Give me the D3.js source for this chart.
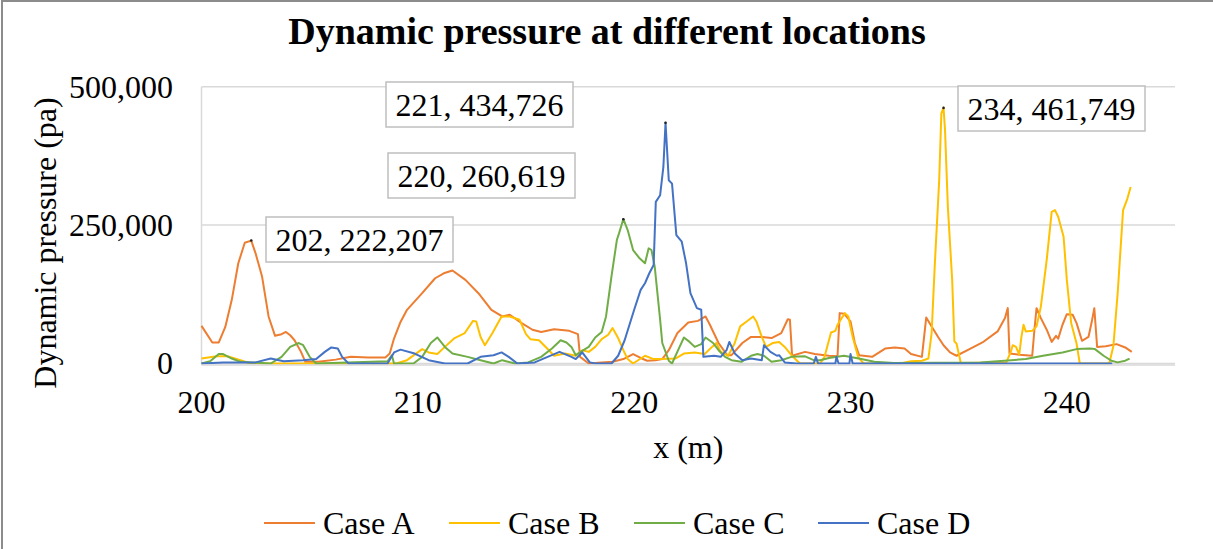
<!DOCTYPE html>
<html>
<head>
<meta charset="utf-8">
<script src="https://cdn.jsdelivr.net/npm/d3@7"></script>
<style>
  html, body { margin: 0; padding: 0; background: #fff; }
  svg { display: block; font-family: "Liberation Serif", "Times New Roman", serif; }
</style>
</head>
<body>
<div id="chart"></div>
<script>
// Dynamic pressure (pa) along x (m). Values in thousands of pa.
const caseA = [
  [200.0, 68], [200.5, 38], [200.8, 38], [201.1, 66], [201.4, 115], [201.7, 181], [202.0, 218],
  [202.3, 222], [202.5, 199], [202.8, 157], [203.1, 85], [203.4, 50], [203.7, 53], [203.9, 57],
  [204.1, 51], [204.3, 42], [204.6, 21], [204.8, 3], [205.4, 3], [206.2, 7], [206.9, 12],
  [207.7, 11], [208.5, 11], [208.7, 18], [208.9, 45], [209.2, 75], [209.5, 97], [210.2, 127],
  [210.8, 154], [211.2, 163], [211.6, 168], [212.2, 151], [212.8, 127], [213.4, 97], [213.9, 85],
  [214.25, 88], [214.8, 73], [215.3, 61], [215.7, 57], [216.3, 62], [217.0, 59], [217.4, 53],
  [217.5, 12], [217.9, 0], [218.5, 2], [219.0, 3], [219.5, 8], [219.95, 17], [220.3, 10],
  [220.6, 5], [221.0, 6], [221.3, 8], [221.6, 24], [222.0, 55], [222.5, 74], [222.95, 77],
  [223.3, 85], [223.5, 70], [223.9, 37], [224.3, 15], [224.5, 15], [225.0, 37], [225.4, 48],
  [225.9, 48], [226.35, 46], [226.8, 55], [227.1, 80], [227.2, 79], [227.3, 14], [227.9, 21],
  [228.35, 17], [229.0, 14], [229.4, 13], [229.5, 91], [229.7, 90], [230.0, 76], [230.2, 37],
  [230.4, 15], [231.0, 12], [231.6, 27], [232.05, 29], [232.5, 27], [232.8, 17], [233.3, 12],
  [233.5, 83], [233.75, 67], [234.05, 48], [234.3, 33], [234.6, 20], [234.9, 14], [235.5, 26],
  [236.1, 38], [236.8, 58], [237.14, 82], [237.27, 100], [237.35, 18], [237.8, 16], [238.4, 14],
  [238.5, 60], [238.6, 100], [238.8, 82], [239.07, 61], [239.3, 39], [239.5, 50], [239.6, 45],
  [239.8, 70], [240.0, 89], [240.27, 88], [240.45, 73], [240.7, 41], [241.0, 48], [241.14, 73],
  [241.27, 100], [241.4, 30], [241.8, 31], [242.3, 35], [242.7, 29], [243.0, 21]
];

const caseB = [
  [200.0, 9], [200.7, 13], [201.2, 13], [201.8, 6], [202.2, 1], [203.0, 0], [209.0, 0],
  [209.5, 6], [210.2, 26], [210.5, 20], [210.9, 17], [211.25, 30], [211.7, 46], [212.17, 55],
  [212.55, 77], [212.7, 76], [212.9, 48], [213.1, 33], [213.45, 55], [213.87, 85], [214.25, 85],
  [214.7, 79], [215.0, 53], [215.2, 44], [215.6, 42], [215.98, 27], [216.3, 14], [216.8, 18],
  [217.3, 14], [217.6, 24], [217.9, 21], [218.2, 30], [218.5, 44], [218.8, 52], [219.0, 64],
  [219.26, 46], [219.5, 24], [219.7, 8], [219.95, 0], [220.5, 14], [220.9, 8], [221.26, 8],
  [221.9, 9], [222.3, 18], [222.8, 20], [223.26, 17], [223.6, 30], [223.8, 37], [224.0, 21],
  [224.35, 14], [224.65, 37], [224.9, 67], [225.2, 76], [225.5, 85], [225.65, 76], [225.9, 48],
  [226.1, 30], [226.4, 37], [226.7, 39], [226.96, 30], [227.27, 15], [227.66, 0], [228.6, 0],
  [228.8, 12], [229.1, 56], [229.3, 59], [229.4, 70], [229.74, 91], [229.9, 85], [230.1, 48],
  [230.35, 12], [230.6, 0], [232.3, 0], [232.8, 4], [233.3, 5], [233.6, 9], [233.75, 55],
  [233.9, 181], [234.1, 331], [234.2, 452], [234.3, 462], [234.37, 421], [234.5, 283],
  [234.7, 151], [234.8, 40], [234.9, 36], [235.1, 1], [237.2, 2], [237.4, 20], [237.5, 33],
  [237.65, 30], [237.8, 16], [237.9, 48], [238.0, 70], [238.1, 58], [238.4, 59], [238.6, 67],
  [238.8, 103], [239.07, 187], [239.3, 274], [239.45, 277], [239.6, 265], [239.85, 229],
  [240.0, 151], [240.2, 73], [240.45, 36], [240.6, 0], [241.96, 0], [242.15, 31], [242.35, 127],
  [242.6, 277], [242.8, 298], [242.95, 319]
];

const caseC = [
  [200.0, 0], [200.4, 4], [200.8, 17], [201.0, 17], [201.4, 9], [201.8, 3], [203.2, 0],
  [203.7, 12], [204.1, 30], [204.5, 37], [204.7, 33], [205.0, 12], [205.3, 0], [208.6, 4],
  [208.8, 15], [208.9, 0], [209.8, 0], [210.2, 12], [210.6, 37], [210.9, 47], [211.25, 30],
  [211.6, 18], [212.3, 12], [212.9, 6], [213.5, 0], [213.9, 6], [214.5, 0], [215.1, 2],
  [215.7, 12], [216.2, 27], [216.6, 42], [216.87, 38], [217.1, 30], [217.3, 15], [217.56, 22],
  [217.9, 30], [218.2, 47], [218.5, 57], [218.7, 85], [218.95, 157], [219.2, 223], [219.3, 235],
  [219.5, 261], [219.7, 241], [219.95, 205], [220.25, 190], [220.5, 181], [220.67, 208],
  [220.8, 205], [220.95, 175], [221.2, 79], [221.3, 37], [221.6, 5], [221.75, 0], [222.1, 30],
  [222.3, 47], [222.56, 39], [222.8, 30], [223.1, 35], [223.3, 47], [223.65, 37], [223.9, 24],
  [224.2, 12], [224.5, 6], [224.96, 3], [225.4, 14], [225.7, 17], [226.0, 14], [226.35, 3],
  [226.8, 6], [227.27, 12], [227.9, 13], [228.3, 6], [228.6, 6], [229.0, 10], [229.7, 14],
  [230.5, 8], [231.1, 3], [232.0, 1], [236.0, 2], [238.1, 8], [238.9, 14], [239.8, 20],
  [240.45, 26], [241.06, 27], [241.3, 26], [241.7, 14], [242.06, 5], [242.35, 2], [242.7, 5],
  [242.9, 9]
];

const caseD = [
  [200.0, 0], [201.0, 2], [202.5, 2], [203.2, 9], [203.8, 4], [204.7, 6], [205.3, 8],
  [205.7, 21], [206.0, 29], [206.3, 27], [206.5, 12], [206.8, 0], [208.6, 0], [208.9, 20],
  [209.2, 25], [209.85, 18], [210.5, 6], [211.25, 0], [212.3, 0], [212.9, 12], [213.5, 15],
  [213.87, 20], [214.2, 12], [214.6, 0], [215.4, 2], [216.0, 12], [216.55, 21], [217.1, 12],
  [217.3, 8], [217.6, 20], [217.95, 2], [218.2, 0], [218.95, 0], [219.26, 14], [219.56, 42],
  [220.0, 97], [220.3, 133], [220.5, 145], [220.7, 163], [220.9, 178], [221.0, 292],
  [221.2, 304], [221.35, 355], [221.45, 435], [221.6, 331], [221.75, 325], [221.95, 232],
  [222.2, 220], [222.4, 181], [222.6, 127], [222.9, 100], [223.1, 97], [223.2, 12], [223.7, 14],
  [224.0, 12], [224.27, 24], [224.4, 39], [224.65, 18], [225.0, 6], [225.4, 9], [225.9, 6],
  [226.0, 33], [226.3, 21], [226.6, 14], [226.7, 15], [226.96, 2], [227.5, 0], [228.3, 0],
  [228.4, 12], [228.5, 0], [229.3, 0], [229.35, 12], [229.45, 0], [229.95, 0], [230.0, 17],
  [230.1, 0], [242.1, 0]
];

const seriesNames = ['Case A', 'Case B', 'Case C', 'Case D'];
const seriesColors = ['#ED7D31', '#FFC000', '#70AD47', '#4472C4'];
const seriesData = [caseA, caseB, caseC, caseD];

const xTicks = [200, 210, 220, 230, 240];
const yTicks = [0, 250000, 500000];

// peak call-outs: [x, value, label text]
const peakLabels = [
  [221.45, 434726, '221, 434,726'],
  [219.5, 260619, '220, 260,619'],
  [202.3, 222207, '202, 222,207'],
  [234.3, 461749, '234, 461,749']
];
const labelBoxes = [ // box left/top in px, placed like the Excel labels
  [386, 82], [388, 153], [266, 217], [958, 86]
];

const W = 1213, H = 549;
const plot = { left: 201.5, right: 1175, top: 86.7, bottom: 363.5 };
const FONT = 32;

const svg = d3.select('#chart').append('svg')
  .attr('width', W).attr('height', H);

// chart area border (right / bottom edges are cropped in the source)
svg.append('rect')
  .attr('x', 2).attr('y', 1).attr('width', W + 20).attr('height', H + 20)
  .attr('fill', '#fff').attr('stroke', '#8c8c8c').attr('stroke-width', 2);

const x = d3.scaleLinear().domain([200, 245]).range([plot.left, plot.right]);
const y = d3.scaleLinear().domain([0, 500000]).range([plot.bottom, plot.top]);

// gridlines
svg.append('g').selectAll('line')
  .data(yTicks)
  .join('line')
  .attr('x1', plot.left).attr('x2', plot.right)
  .attr('y1', d => y(d)).attr('y2', d => y(d))
  .attr('stroke', '#d9d9d9').attr('stroke-width', 1.5);

// value axis line
svg.append('line')
  .attr('x1', plot.left).attr('x2', plot.left)
  .attr('y1', plot.top).attr('y2', plot.bottom)
  .attr('stroke', '#d9d9d9').attr('stroke-width', 1.5);

// y tick labels
svg.append('g').selectAll('text')
  .data(yTicks)
  .join('text')
  .attr('x', 173)
  .attr('y', d => y(d))
  .attr('dy', '0.34em')
  .attr('text-anchor', 'end')
  .style('font-size', FONT + 'px')
  .text(d => d3.format(',')(d));

// x tick labels
svg.append('g').selectAll('text')
  .data(xTicks)
  .join('text')
  .attr('x', d => x(d))
  .attr('y', 413)
  .attr('text-anchor', 'middle')
  .style('font-size', FONT + 'px')
  .text(d => d);

// series lines
const line = d3.line()
  .x(d => x(d[0]))
  .y(d => y(d[1] * 1000));

svg.append('g')
  .attr('fill', 'none')
  .attr('stroke-width', 2)
  .attr('stroke-linejoin', 'round')
  .selectAll('path')
  .data(seriesData)
  .join('path')
  .attr('stroke', (d, i) => seriesColors[i])
  .attr('d', line);

// axis line at zero over the series base
svg.append('line')
  .attr('x1', plot.left).attr('x2', plot.right)
  .attr('y1', y(0) + 1.5).attr('y2', y(0) + 1.5)
  .attr('stroke', '#d9d9d9').attr('stroke-width', 1.5);

// peak markers + labels
svg.append('g').selectAll('circle')
  .data(peakLabels)
  .join('circle')
  .attr('cx', d => x(d[0])).attr('cy', d => y(d[1]))
  .attr('r', 1.3).attr('fill', '#222');

const lab = svg.append('g').selectAll('g')
  .data(peakLabels)
  .join('g')
  .attr('transform', (d, i) => `translate(${labelBoxes[i][0]},${labelBoxes[i][1]})`);
lab.append('rect')
  .attr('width', 187).attr('height', 45)
  .attr('fill', '#fff').attr('stroke', '#bfbfbf').attr('stroke-width', 1.5);
lab.append('text')
  .attr('x', 93.5).attr('y', 34)
  .attr('text-anchor', 'middle')
  .style('font-size', FONT + 'px')
  .text(d => d[2]);

// title
svg.append('text')
  .attr('x', 607).attr('y', 44)
  .attr('text-anchor', 'middle')
  .style('font-size', '38px').style('font-weight', 'bold')
  .text('Dynamic pressure at different locations');

// axis titles
svg.append('text')
  .attr('x', (plot.left + plot.right) / 2).attr('y', 458)
  .attr('text-anchor', 'middle')
  .style('font-size', FONT + 'px')
  .text('x (m)');

svg.append('text')
  .attr('transform', 'translate(56,243) rotate(-90)')
  .attr('text-anchor', 'middle')
  .style('font-size', FONT + 'px')
  .text('Dynamic pressure (pa)');

// legend
const legendX = [264, 449, 634, 818];
const leg = svg.append('g').selectAll('g')
  .data(seriesNames)
  .join('g')
  .attr('transform', (d, i) => `translate(${legendX[i]},523)`);
leg.append('line')
  .attr('x1', 0).attr('x2', 51)
  .attr('stroke', (d, i) => seriesColors[i]).attr('stroke-width', 2);
leg.append('text')
  .attr('x', 59).attr('dy', '0.34em')
  .style('font-size', FONT + 'px')
  .text(d => d);
</script>
</body>
</html>
